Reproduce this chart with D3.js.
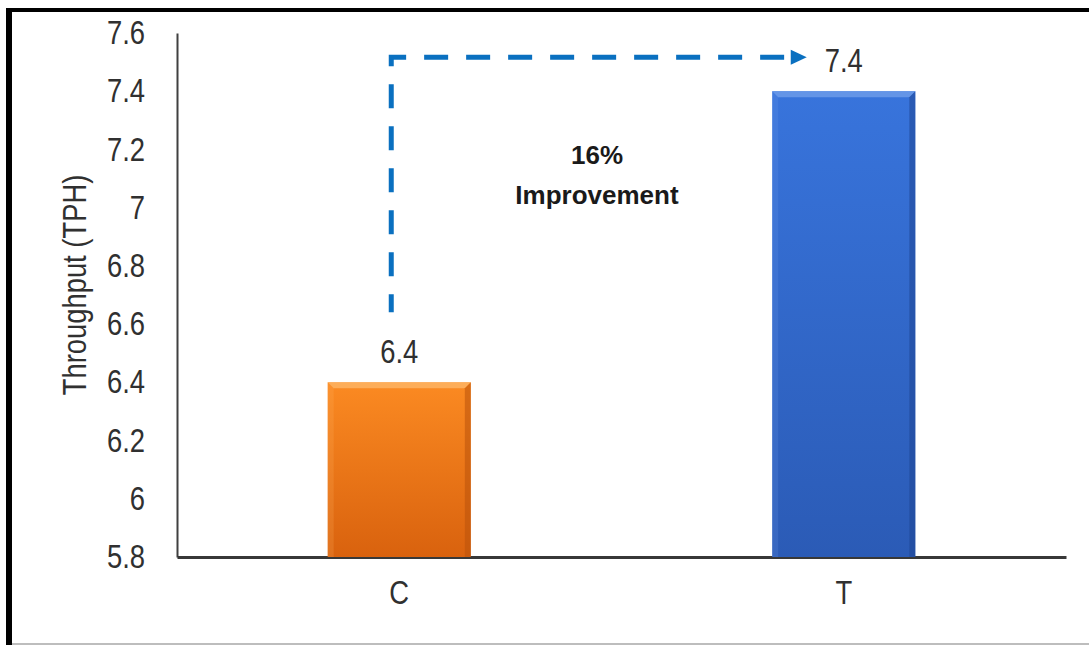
<!DOCTYPE html>
<html>
<head>
<meta charset="utf-8">
<script src="https://cdn.jsdelivr.net/npm/d3@7"></script>
<style>
  body { margin: 0; background: #fff; }
  svg { display: block; }
  .narrow { font-family: "Liberation Sans Narrow", "Arial Narrow", "Liberation Sans", Arial, sans-serif; }
</style>
</head>
<body>
<svg id="chart" width="1089" height="645"></svg>
<script>
// chart data
var categories = ["C", "T"];
var throughput = [6.4, 7.4];
var barColors = [
  { top: "#fb8a22", bottom: "#d9620e", light: "#fdb463", dark: "#b9520b" },
  { top: "#3874dc", bottom: "#2b5bb6", light: "#6c9be9", dark: "#1f4594" }
];
var yTicks = [5.8, 6, 6.2, 6.4, 6.6, 6.8, 7, 7.2, 7.4, 7.6];
var yTitle = "Throughput (TPH)";
var noteLines = ["16%", "Improvement"];

var svg = d3.select("#chart");
var margin = { left: 177, right: 23, top: 33, bottom: 88 };
var W = 1089, H = 645;
var squeeze = 0.83; // the picture uses a narrow face, so squeeze plain sans

// frame around the picture
svg.append("rect").attr("x", 6).attr("y", 8).attr("width", W - 6).attr("height", 4).attr("fill", "#000");
svg.append("rect").attr("x", 6).attr("y", 8).attr("width", 6).attr("height", H - 8).attr("fill", "#000");
svg.append("rect").attr("x", 12).attr("y", 643).attr("width", W - 12).attr("height", 2).attr("fill", "#bdbdbd");

var x = d3.scaleBand().domain(categories).range([margin.left, W - margin.right]).padding(0);
var y = d3.scaleLinear().domain([5.8, 7.6]).range([H - margin.bottom, margin.top]);
var barW = x.bandwidth() * 0.322;

// gradients
var defs = svg.append("defs");
barColors.forEach(function (c, i) {
  var g = defs.append("linearGradient").attr("id", "grad" + i)
    .attr("x1", 0).attr("y1", 0).attr("x2", 0).attr("y2", 1);
  g.append("stop").attr("offset", "0%").attr("stop-color", c.top);
  g.append("stop").attr("offset", "100%").attr("stop-color", c.bottom);
});

// y axis
var yAxis = d3.axisLeft(y).tickValues(yTicks).tickSize(0).tickPadding(32)
  .tickFormat(function (d) { return d3.format("~g")(d); });
var gy = svg.append("g").attr("transform", "translate(" + margin.left + ",0)").call(yAxis);
gy.select(".domain").attr("stroke", "#404040").attr("stroke-width", 2);
gy.selectAll("text").attr("class", "narrow").attr("font-size", 33).attr("fill", "#303030")
  .attr("x", -32 / squeeze).attr("transform", "scale(" + squeeze + ",1)");

// x axis
var xAxis = d3.axisBottom(x).tickSize(0).tickPadding(24);
var gx = svg.append("g").attr("transform", "translate(0," + y(5.8) + ")").call(xAxis);
gx.select(".domain").attr("stroke", "#383838").attr("stroke-width", 3);
gx.selectAll("text").attr("class", "narrow").attr("font-size", 33).attr("fill", "#303030")
  .attr("transform", "scale(" + squeeze + ",1)");

// y title
svg.append("text").attr("class", "narrow")
  .attr("transform", "translate(86," + ((margin.top + y(5.8)) / 2 - 10) + ") rotate(-90) scale(" + squeeze + ",1)")
  .attr("text-anchor", "middle").attr("font-size", 33).attr("fill", "#303030")
  .text(yTitle);

// bars with bevel
var bars = svg.append("g").selectAll("g").data(categories).enter().append("g");
bars.each(function (cat, i) {
  var g = d3.select(this);
  var x0 = x(cat) + x.bandwidth() / 2 - barW / 2, x1 = x0 + barW;
  var y0 = y(throughput[i]), y1 = y(5.8);
  var b = 6, c = barColors[i];
  g.append("rect").attr("x", x0).attr("y", y0).attr("width", barW).attr("height", y1 - y0)
    .attr("fill", "url(#grad" + i + ")");
  g.append("polygon").attr("points", [[x0, y0], [x1, y0], [x1 - b, y0 + b], [x0 + b, y0 + b]].join(" "))
    .attr("fill", c.light).attr("opacity", 0.85);
  g.append("polygon").attr("points", [[x0, y0], [x0 + b, y0 + b], [x0 + b, y1], [x0, y1]].join(" "))
    .attr("fill", c.light).attr("opacity", 0.2);
  g.append("polygon").attr("points", [[x1, y0], [x1 - b, y0 + b], [x1 - b, y1], [x1, y1]].join(" "))
    .attr("fill", c.dark).attr("opacity", 0.55);
  // value label
  var cx = x(cat) + x.bandwidth() / 2;
  g.append("text").attr("class", "narrow")
    .attr("x", cx / squeeze).attr("y", y0 - 19)
    .attr("transform", "scale(" + squeeze + ",1)")
    .attr("text-anchor", "middle").attr("font-size", 33).attr("fill", "#303030")
    .text(d3.format("~g")(throughput[i]));
});

// improvement arrow
var ax = x(categories[0]) + x.bandwidth() / 2 - 8;
var ay = y(throughput[1]) - 34;
var tipX = x(categories[1]) + x.bandwidth() / 2 - 37;
svg.append("path")
  .attr("d", "M" + ax + "," + (y(throughput[0]) - 70) + "V" + ay + "H" + (tipX - 14))
  .attr("fill", "none").attr("stroke", "#0a70c0").attr("stroke-width", 5)
  .attr("stroke-dasharray", "24,18").attr("stroke-dashoffset", 6);
svg.append("polygon")
  .attr("points", [[tipX - 16, ay - 7.5], [tipX, ay], [tipX - 16, ay + 7.5]].join(" "))
  .attr("fill", "#0a70c0");

// note text
var note = svg.append("text").attr("text-anchor", "middle")
  .attr("font-family", "'Liberation Sans', Arial, sans-serif").attr("font-weight", "bold")
  .attr("font-size", 26).attr("fill", "#1a1a1a");
noteLines.forEach(function (t, i) {
  note.append("tspan").attr("x", 597).attr("y", 164 + i * 40).text(t);
});
</script>
</body>
</html>
